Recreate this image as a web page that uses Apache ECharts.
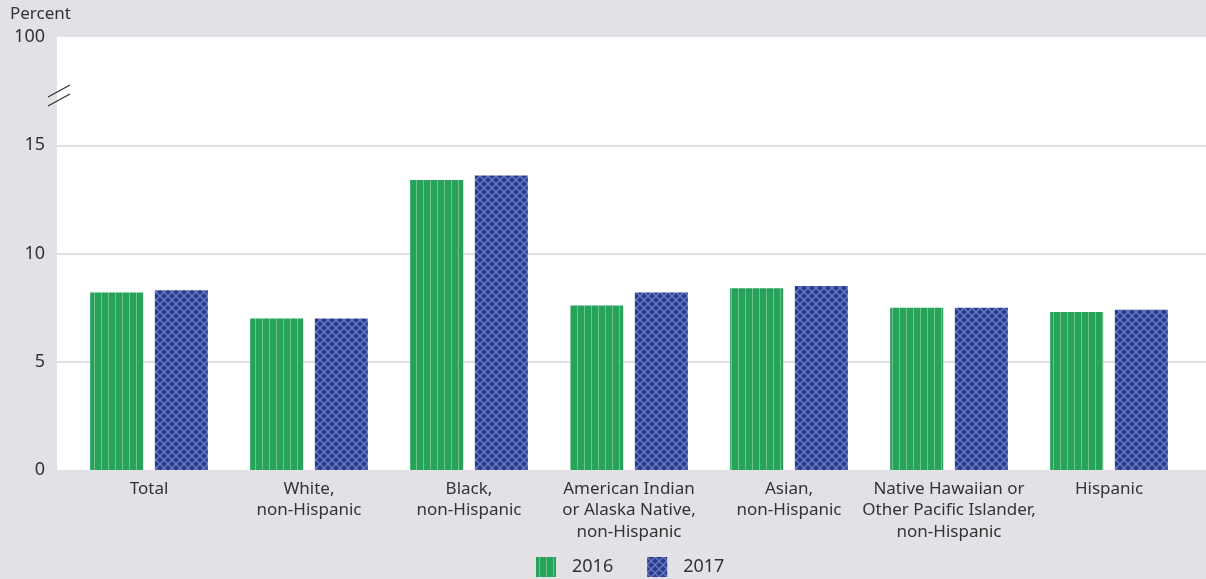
<!DOCTYPE html>
<html><head><meta charset="utf-8">
<script src="https://cdn.jsdelivr.net/npm/echarts@6/dist/echarts.min.js"></script>
<style>html,body{margin:0;padding:0;background:#e3e1e6}#c{width:1206px;height:579px}</style>
</head><body><div id="c"></div>
<script>
const categories = ['Total','White,\nnon-Hispanic','Black,\nnon-Hispanic','American Indian\nor Alaska Native,\nnon-Hispanic','Asian,\nnon-Hispanic','Native Hawaiian or\nOther Pacific Islander,\nnon-Hispanic','Hispanic'];
const values2016 = [8.2, 7.0, 13.4, 7.6, 8.4, 7.5, 7.3];
const values2017 = [8.3, 7.0, 13.6, 8.2, 8.5, 7.5, 7.4];
const yTickLabels = {0:'0',5:'5',10:'10',15:'15',20:'100'};
const FONT = 'Noto Sans';

function stripes(){
  const c=document.createElement('canvas');c.width=7;c.height=7;
  const g=c.getContext('2d');g.fillStyle='#25a35b';g.fillRect(0,0,7,7);
  g.fillStyle='#74c08a';g.fillRect(3,0,1,7);return c;
}
function diamonds(){
  const c=document.createElement('canvas');c.width=8;c.height=8;
  const g=c.getContext('2d');g.fillStyle='#223d91';g.fillRect(0,0,8,8);
  g.strokeStyle='#7579bd';g.lineWidth=1.4;
  g.beginPath();g.moveTo(-1,-1);g.lineTo(9,9);g.moveTo(9,-1);g.lineTo(-1,9);g.stroke();return c;
}
const chart = echarts.init(document.getElementById('c'));
const gridCol='#e2e0e5';
chart.setOption({
  animation:false,
  backgroundColor:'#e3e1e6',
  textStyle:{fontFamily:FONT,color:'#333'},
  grid:[
    {left:57,right:0,top:37,bottom:109,show:true,backgroundColor:'#ffffff',borderWidth:0},
    {left:69,right:17,top:37,bottom:109}
  ],
  xAxis:[
    {gridIndex:0,type:'value',show:false,min:0,max:1},
    {gridIndex:1,type:'category',data:categories,axisLine:{show:false},axisTick:{show:false},
     axisLabel:{interval:0,fontSize:17,lineHeight:21.5,color:'#333',margin:8,fontFamily:FONT}}
  ],
  yAxis:[
    {gridIndex:0,type:'value',min:0,max:20,interval:5,axisLine:{show:false},axisTick:{show:false},
     axisLabel:{fontSize:18,color:'#333',margin:12,fontFamily:FONT,formatter:v=>yTickLabels[v]},
     splitLine:{lineStyle:{color:['transparent',gridCol,gridCol,gridCol,'transparent'],width:2}}},
    {gridIndex:1,type:'value',min:0,max:20,show:false,splitLine:{show:false}}
  ],
  legend:{top:557,left:536,padding:0,itemWidth:20,itemHeight:20,itemGap:34,icon:'rect',
    textStyle:{fontSize:18,color:'#333',fontFamily:FONT,padding:[0,0,0,11]},data:['2016','2017']},
  series:[
    {name:'2016',type:'bar',xAxisIndex:1,yAxisIndex:1,data:values2016,barWidth:53,barGap:'22%',
     itemStyle:{color:{image:stripes(),repeat:'repeat'}}},
    {name:'2017',type:'bar',xAxisIndex:1,yAxisIndex:1,data:values2017,barWidth:53,barGap:'22%',
     itemStyle:{color:{image:diamonds(),repeat:'repeat'}}}
  ],
  graphic:[
    {type:'text',left:10,top:6,style:{text:'Percent',fontSize:17,fill:'#333',fontFamily:FONT}},
    {type:'line',shape:{x1:48,y1:97,x2:70,y2:85},style:{stroke:'#333',lineWidth:1.3},z:100},
    {type:'line',shape:{x1:48,y1:106,x2:70,y2:94},style:{stroke:'#333',lineWidth:1.3},z:100}
  ]
});
</script></body></html>
